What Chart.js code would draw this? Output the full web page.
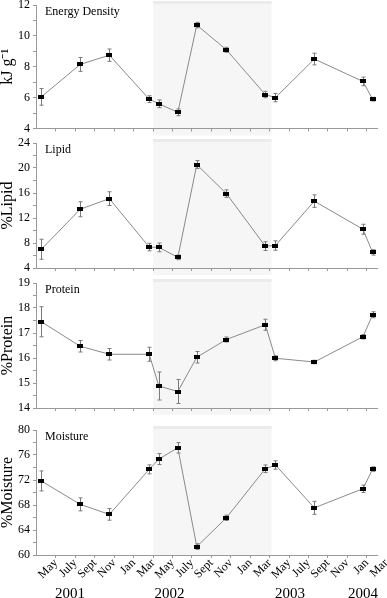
<!DOCTYPE html>
<html>
<head>
<meta charset="utf-8">
<script src="https://cdn.jsdelivr.net/npm/chart.js@4.4.0/dist/chart.umd.min.js"></script>
<style>
  body { margin: 0; background: #fff; }
  #wrap { position: relative; width: 387px; height: 598px; overflow: hidden; }
  .panel { position: absolute; left: 0; width: 387px; }
</style>
</head>
<body>
<div id="wrap">
  <div class="panel" style="top:0px;height:140px"><canvas id="c1"></canvas></div>
  <div class="panel" style="top:138px;height:140px"><canvas id="c2"></canvas></div>
  <div class="panel" style="top:278px;height:140px"><canvas id="c3"></canvas></div>
  <div class="panel" style="top:425px;height:173px"><canvas id="c4"></canvas></div>
</div>
<script>
// sampling dates, in months after May 2001
const sampleMonths = [-1.5, 2.5, 5.5, 9.6, 10.6, 12.55, 14.5, 17.55, 21.55, 22.6, 26.6, 31.6, 32.6];

const energy = [6.05, 8.15, 8.75, 5.9, 5.6, 5.05, 10.7, 9.1, 6.2, 6.0, 8.5, 7.05, 5.9];
const energyErr = [0.54, 0.45, 0.4, 0.22, 0.25, 0.22, 0.18, 0.16, 0.21, 0.27, 0.38, 0.28, 0.12];

const lipid = [7.0, 13.4, 15.1, 7.35, 7.3, 5.7, 20.55, 15.9, 7.5, 7.6, 14.7, 10.2, 6.5];
const lipidErr = [1.6, 1.2, 1.1, 0.6, 0.7, 0.37, 0.64, 0.6, 0.7, 0.75, 1.0, 0.8, 0.43];

const protein = [17.45, 16.47, 16.15, 16.15, 14.88, 14.66, 16.03, 16.74, 17.33, 15.99, 15.84, 16.85, 17.73];
const proteinErr = [0.6, 0.23, 0.23, 0.28, 0.56, 0.48, 0.23, 0.1, 0.22, 0.1, 0.07, 0.09, 0.12];

const moisture = [71.85, 68.1, 66.5, 73.7, 75.35, 77.15, 61.35, 65.95, 73.8, 74.4, 67.55, 70.6, 73.75];
const moistureErr = [1.6, 1.04, 0.93, 0.72, 0.88, 0.83, 0.45, 0.43, 0.61, 0.67, 1.04, 0.59, 0.35];

const monthLabels = ['May', 'July', 'Sept', 'Nov', 'Jan', 'Mar',
                     'May', 'July', 'Sept', 'Nov', 'Jan', 'Mar',
                     'May', 'July', 'Sept', 'Nov', 'Jan', 'Mar'];
const monthTicks = [0, 2, 4, 6, 8, 10, 12, 14, 16, 18, 20, 22, 24, 26, 28, 30, 32, 34];

const yearLabels = ['2001', '2002', '2003', '2004'];
const yearTicks = [1.45, 11.7, 24.1, 31.6];

// shaded period
const shadeFrom = 10;
const shadeTo = 22.2;

const SERIF = "'Liberation Serif', 'Times New Roman', serif";
const AXIS = '#999999';

// small black rectangle marker
const marker = document.createElement('canvas');
marker.width = 6;
marker.height = 4;
marker.getContext('2d').fillRect(0, 0, 6, 4);

const shadePlugin = {
  id: 'shade',
  beforeDraw(chart, args, opts) {
    const ctx = chart.ctx;
    const xs = chart.scales.x;
    const area = chart.chartArea;
    const x0 = xs.getPixelForValue(shadeFrom);
    const x1 = xs.getPixelForValue(shadeTo);
    ctx.save();
    ctx.fillStyle = '#ebebeb';
    ctx.fillRect(x0, area.top - 4, x1 - x0, 3);
    ctx.fillStyle = '#f6f6f6';
    ctx.fillRect(x0, area.top - 1, x1 - x0, area.bottom - area.top + 1 + opts.below);
    ctx.restore();
  }
};

const errPlugin = {
  id: 'errBars',
  beforeDatasetsDraw(chart, args, opts) {
    const ctx = chart.ctx;
    const xs = chart.scales.x, ys = chart.scales.y;
    const vals = chart.data.datasets[0].data;
    ctx.save();
    ctx.strokeStyle = '#7a7a7a';
    ctx.lineWidth = 1;
    vals.forEach((p, i) => {
      const e = opts.errors[i];
      const px = Math.round(xs.getPixelForValue(p.x)) + 0.5;
      const top = ys.getPixelForValue(p.y + e);
      const bot = ys.getPixelForValue(p.y - e);
      ctx.beginPath();
      ctx.moveTo(px, top); ctx.lineTo(px, bot);
      ctx.moveTo(px - 2, top); ctx.lineTo(px + 2, top);
      ctx.moveTo(px - 2, bot); ctx.lineTo(px + 2, bot);
      ctx.stroke();
    });
    ctx.restore();
  }
};

const labelPlugin = {
  id: 'panelLabel',
  afterDraw(chart, args, opts) {
    const ctx = chart.ctx;
    ctx.save();
    ctx.font = '12px ' + SERIF;
    ctx.fillStyle = '#000';
    ctx.textBaseline = 'alphabetic';
    ctx.fillText(opts.text, chart.chartArea.left + 9, chart.chartArea.top + 9.5);
    ctx.restore();
  }
};

function noPadding(scale) {
  scale.paddingLeft = 0;
  scale.paddingRight = 0;
  scale.paddingTop = 0;
  scale.paddingBottom = 0;
}

function makePanel(id, label, title, values, errors, yMin, yMax, yStep, labelEvery, bottom) {
  const scales = {
    x: {
      type: 'linear',
      min: -2.05,
      max: 33.05,
      weight: 0,
      afterBuildTicks: s => { s.ticks = monthTicks.map(v => ({ value: v })); },
      afterFit: s => { s.height = bottom ? 28 : (id === 'c1' ? 11.5 : 10); noPadding(s); },
      border: { color: AXIS, width: 1 },
      grid: {
        drawOnChartArea: false,
        tickLength: 3,
        color: c => (c.tick && c.tick.value > 33 ? 'rgba(0,0,0,0)' : AXIS)
      },
      ticks: {
        display: bottom,
        autoSkip: false,
        minRotation: 45,
        maxRotation: 45,
        padding: -2,
        color: '#000',
        font: { family: SERIF, size: 12 },
        callback: (v, i) => monthLabels[i]
      }
    },
    y: {
      type: 'linear',
      min: yMin,
      max: yMax,
      afterFit: s => { s.width = 36; noPadding(s); },
      border: { color: AXIS, width: 1 },
      grid: { drawOnChartArea: false, tickLength: 3, color: AXIS },
      ticks: {
        stepSize: yStep,
        autoSkip: false,
        maxTicksLimit: 40,
        padding: 3,
        color: '#000',
        font: { family: SERIF, size: 12 },
        callback: v => ((v - yMin) % labelEvery === 0 ? v : '')
      },
      title: {
        display: true,
        text: title,
        color: '#000',
        padding: { top: 0, bottom: 0 },
        font: { family: SERIF, size: 16, lineHeight: 1.0 }
      }
    }
  };
  if (bottom) {
    scales.xYear = {
      type: 'linear',
      position: 'bottom',
      min: -2.05,
      max: 33.05,
      weight: 1,
      afterBuildTicks: s => { s.ticks = yearTicks.map(v => ({ value: v })); },
      afterFit: s => { s.height = 15; noPadding(s); },
      border: { display: false },
      grid: { display: false, drawTicks: false, tickLength: 0 },
      ticks: {
        autoSkip: false,
        maxRotation: 0,
        minRotation: 0,
        padding: 2,
        color: '#000',
        font: { family: SERIF, size: 15 },
        callback: (v, i) => yearLabels[i]
      }
    };
  }

  return new Chart(document.getElementById(id), {
    type: 'line',
    data: {
      datasets: [{
        data: sampleMonths.map((m, i) => ({ x: m, y: values[i] })),
        borderColor: '#8a8a8a',
        borderWidth: 1,
        tension: 0,
        pointStyle: marker,
        pointRadius: 3,
        pointHoverRadius: 3,
        fill: false
      }]
    },
    options: {
      responsive: true,
      maintainAspectRatio: false,
      animation: false,
      layout: { padding: { top: 5, right: 10, left: 0, bottom: 0 } },
      scales: scales,
      plugins: {
        legend: { display: false },
        tooltip: { enabled: false },
        shade: { below: bottom ? 0 : 7 },
        errBars: { errors: errors },
        panelLabel: { text: label }
      }
    },
    plugins: [shadePlugin, errPlugin, labelPlugin]
  });
}

makePanel('c1', 'Energy Density', 'kJ g\u207B\u00B9', energy, energyErr, 4, 12, 1, 2, false);
makePanel('c2', 'Lipid', '%Lipid', lipid, lipidErr, 4, 24, 2, 4, false);
makePanel('c3', 'Protein', '%Protein', protein, proteinErr, 14, 19, 0.5, 1, false);
makePanel('c4', 'Moisture', '%Moisture', moisture, moistureErr, 60, 80, 2, 4, true);
</script>
</body>
</html>
